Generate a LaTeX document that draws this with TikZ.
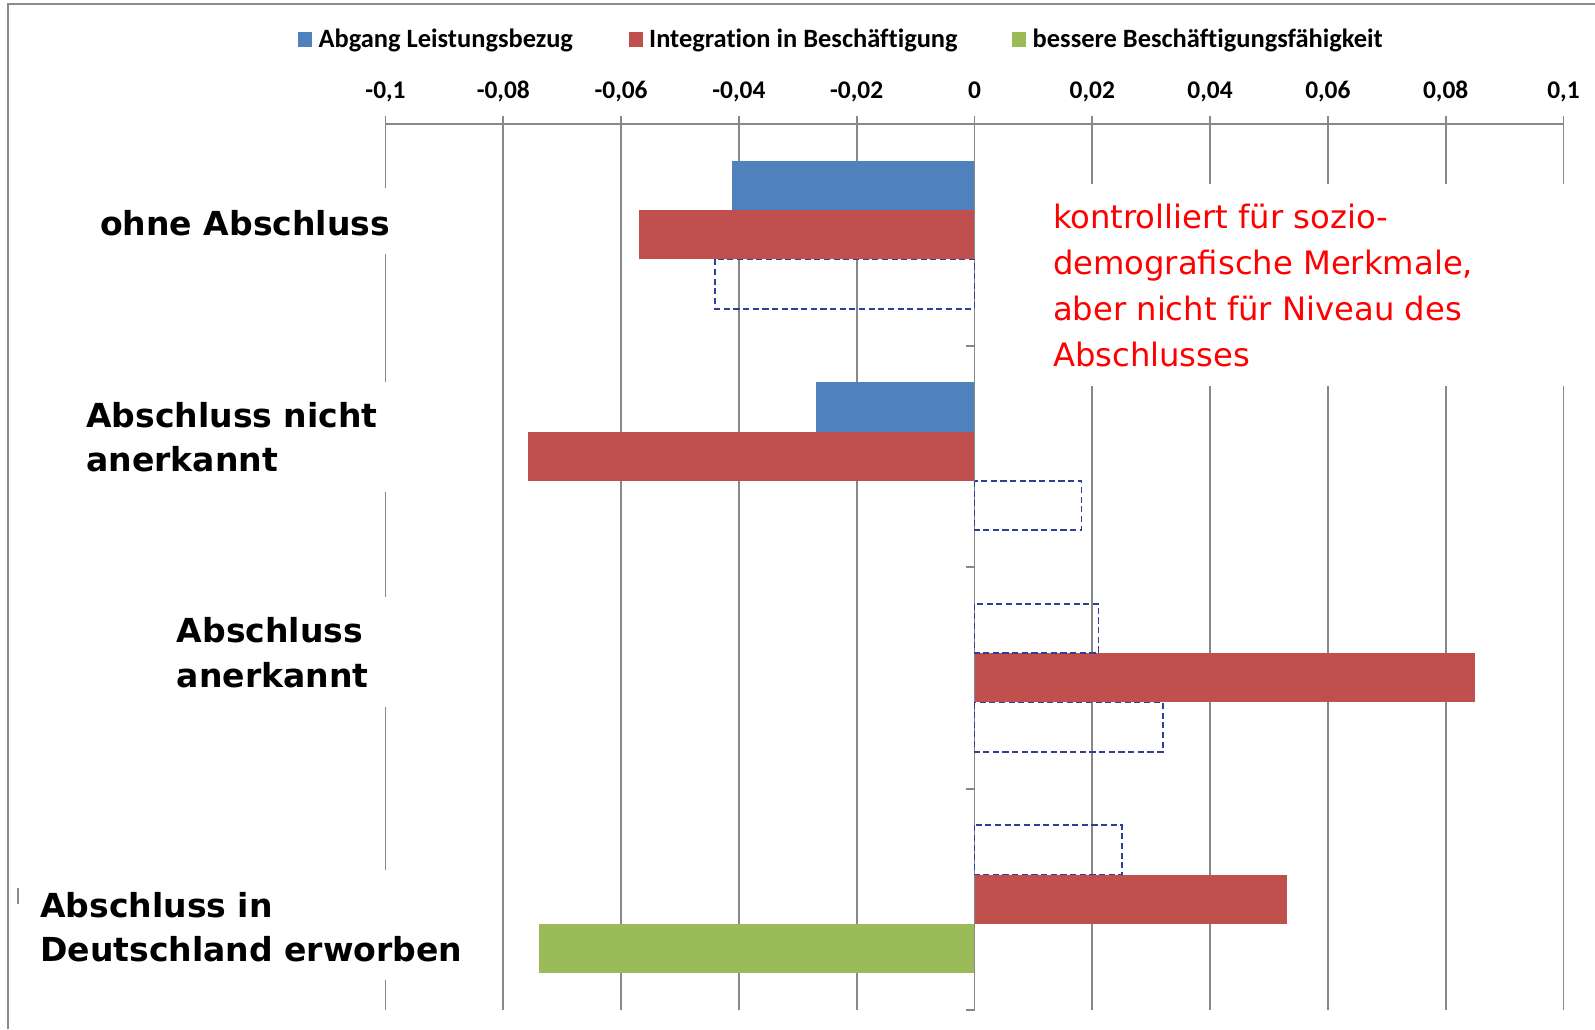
\documentclass[tikz,border=0pt]{standalone}
\usepackage{fontspec}
\setmainfont{DejaVu Sans}
\newfontfamily\calib[Ligatures=CommonOff]{Carlito}
\definecolor{xlblue}{HTML}{4F81BD}
\definecolor{xlred}{HTML}{C0504D}
\definecolor{xlgreen}{HTML}{9BBB59}
\definecolor{dashblue}{RGB}{46,64,148}
\definecolor{gridgray}{RGB}{136,136,136}
\definecolor{framegray}{RGB}{140,140,140}
\tikzset{
  gridln/.style={draw=gridgray, line width=1.8pt},
  frameln/.style={draw=framegray, line width=2pt},
  dashbox/.style={draw=dashblue, line width=1.6pt, dash pattern=on 6pt off 3.5pt},
  catlab/.style={anchor=base west, inner sep=0pt, font=\fontsize{32.5}{40}\selectfont\bfseries},
  notelab/.style={anchor=base west, inner sep=0pt, text=red, font=\fontsize{31.7}{40}\selectfont},
  axlab/.style={anchor=base, inner sep=0pt, font=\calib\fontsize{25}{30}\selectfont\bfseries},
  leglab/.style={anchor=base west, inner sep=0pt, font=\calib\fontsize{26}{30}\selectfont\bfseries},
  legsq/.style={draw=none, inner sep=0pt, minimum width=14pt, minimum height=15pt}
}
\begin{document}
\begin{tikzpicture}[x=1pt,y=-1pt]
\useasboundingbox (0,0) rectangle (1568,1012);
\fill[white] (0,0) rectangle (1568,1012);
% frame
\draw[frameln] (7.4,1012) -- (7.4,4.2) -- (1568,4.2);
\draw[draw=framegray, line width=1.2pt] (17.7,873) -- (17.7,889);
% gridlines
\foreach \x in {494.8,610.6,726.4,842.2,1073.8,1189.6,1305.4,1421.2,1537}
  \draw[gridln] (\x,114.5) -- (\x,993);
\draw[gridln] (379,114.5) -- (379,185) (379,250) -- (379,376) (379,484) -- (379,587) (379,695) -- (379,855) (379,963) -- (379,993);
\draw[gridln] (379,121.5) -- (1537,121.5);
% bars: ohne Abschluss
\fill[xlblue] (720,158) rectangle (958,206.5);
\fill[xlred] (628,206.5) rectangle (958,255);
% Abschluss nicht anerkannt
\fill[xlblue] (802,375.75) rectangle (958,424.25);
\fill[xlred] (519,424.25) rectangle (958,472.75);
% Abschluss anerkannt
\fill[xlred] (958,642) rectangle (1450,690.5);
% Abschluss in Deutschland erworben
\fill[xlred] (958,859.75) rectangle (1265,908.25);
\fill[xlgreen] (530,908.25) rectangle (958,956.75);
% zero axis and category ticks
\draw[gridln] (958,114.5) -- (958,993);
\foreach \y in {339.75,557.5,775.25,993}
  \draw[gridln] (950,\y) -- (958,\y);
% dashed boxes
\draw[dashbox] (703,255) rectangle (958,303.5);
\draw[dashbox] (958,472.75) rectangle (1063,521.25);
\draw[dashbox] (958,593.5) rectangle (1080,642);
\draw[dashbox] (958,690.5) rectangle (1143,739);
\draw[dashbox] (958,811.25) rectangle (1103,859.75);
% axis labels
\node[axlab] (a1) at (379,96.7) {-0,1};
\node[axlab] (a2) at (494.8,96.7) {-0,08};
\node[axlab] (a3) at (610.6,96.7) {-0,06};
\node[axlab] (a4) at (726.4,96.7) {-0,04};
\node[axlab] (a5) at (842.2,96.7) {-0,02};
\node[axlab] (a6) at (958,96.7) {0};
\node[axlab] (a7) at (1073.8,96.7) {0,02};
\node[axlab] (a8) at (1189.6,96.7) {0,04};
\node[axlab] (a9) at (1305.4,96.7) {0,06};
\node[axlab] (a10) at (1421.2,96.7) {0,08};
\node[axlab] (a11) at (1537,96.7) {0,1};
% legend
\node[legsq, fill=xlblue] (lsq1) at (300,38.5) {};
\node[leglab] (leg1) at (313,46.5) {Abgang Leistungsbezug};
\node[legsq, fill=xlred] (lsq2) at (625,38.5) {};
\node[leglab] (leg2) at (638,46.5) {Integration in Beschäftigung};
\node[legsq, fill=xlgreen] (lsq3) at (1002,38.5) {};
\node[leglab] (leg3) at (1015,46.5) {bessere Beschäftigungsfähigkeit};
% category labels
\node[catlab] (c1) at (98.3,232) {ohne Abschluss};
\node[catlab] (c2a) at (84.5,419.8) {Abschluss nicht};
\node[catlab] (c2b) at (84.5,464) {anerkannt};
\node[catlab] (c3a) at (173.7,632) {Abschluss};
\node[catlab] (c3b) at (173.7,676) {anerkannt};
\node[catlab] (c4a) at (39.3,901.6) {Abschluss in};
\node[catlab] (c4b) at (39.3,945.4) {Deutschland erworben};
% note
\node[fill=white, draw=none, inner sep=0pt, minimum width=517pt, minimum height=198.5pt, anchor=north west] (notebox) at (1028,181) {};
\node[notelab] (n1) at (1035,225) {kontrolliert für sozio-};
\node[notelab] (n2) at (1035,270) {demografische Merkmale,};
\node[notelab] (n3) at (1035,315) {aber nicht für Niveau des};
\node[notelab] (n4) at (1035,360) {Abschlusses};
\end{tikzpicture}
\end{document}
